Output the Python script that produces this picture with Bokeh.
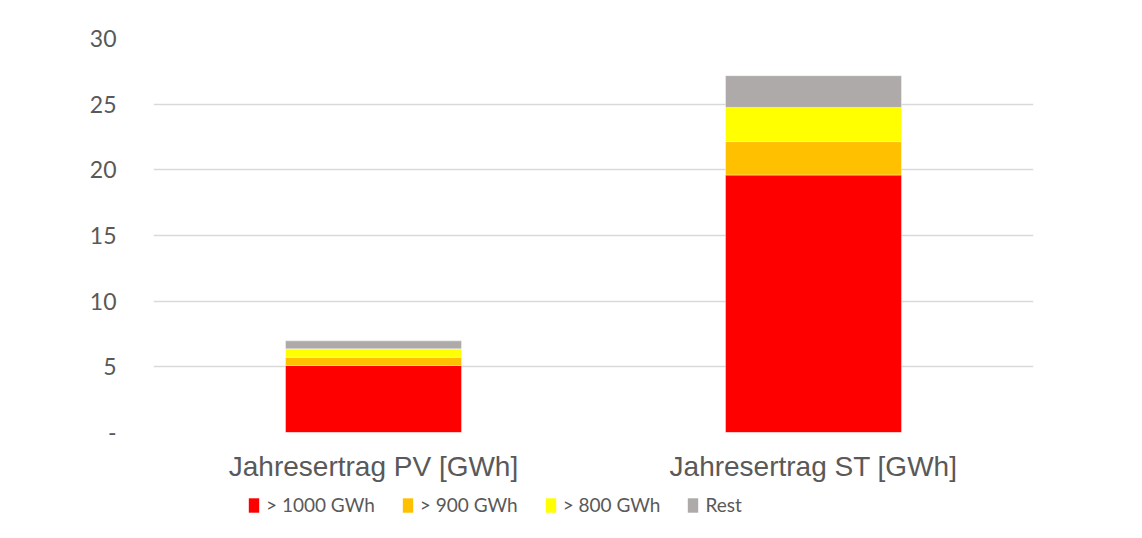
from bokeh.plotting import figure
from bokeh.layouts import column
from bokeh.models import FactorRange, Range1d, FixedTicker, Legend, LegendItem
from bokeh.embed import file_html
from bokeh.resources import INLINE

categories = ["Jahresertrag PV [GWh]", "Jahresertrag ST [GWh]"]
series_names = ["> 1000 GWh", "> 900 GWh", "> 800 GWh", "Rest"]
gt1000 = [5.1, 19.6]
gt900 = [0.63, 2.55]
gt800 = [0.64, 2.6]
rest = [0.61, 2.42]
colors = ["#FF0000", "#FFC000", "#FFFF00", "#AEAAAA"]
y_ticks = [0, 5, 10, 15, 20, 25, 30]

data = {"cat": categories, "s0": gt1000, "s1": gt900, "s2": gt800, "s3": rest}
keys = ["s0", "s1", "s2", "s3"]

W = 1136
p = figure(x_range=FactorRange(*categories, range_padding=0), y_range=Range1d(0, 30),
           width=W, height=494, output_backend="svg", toolbar_location=None,
           min_border_left=153, min_border_right=W - 1033, min_border_top=38, min_border_bottom=62)

p.vbar_stack(keys, x="cat", width=0.4, source=data, color=colors,
             line_color="white", line_alpha=0.4, line_width=1)

p.outline_line_color = None
p.xgrid.grid_line_color = None
p.ygrid.grid_line_color = "#d9d9d9"
p.ygrid.grid_line_width = 1.5

p.yaxis.ticker = FixedTicker(ticks=y_ticks)
p.yaxis.major_label_overrides = {0: "-"}
p.yaxis.axis_line_color = None
p.yaxis.major_tick_line_color = None
p.yaxis.minor_tick_line_color = None
p.yaxis.major_label_standoff = 31
p.yaxis.major_label_text_font = "Lato"
p.yaxis.major_label_text_font_size = "23px"
p.yaxis.major_label_text_color = "#595959"

p.xaxis.axis_line_color = None
p.xaxis.major_tick_line_color = None
p.xaxis.minor_tick_line_color = None
p.xaxis.major_label_standoff = 12
p.xaxis.major_label_text_font = "Liberation Sans"
p.xaxis.major_label_text_font_size = "28px"
p.xaxis.major_label_text_color = "#595959"

# legend strip: same series drawn out of view, only the legend shows
lg = figure(x_range=FactorRange(*categories, range_padding=0), y_range=Range1d(1000, 1001),
            width=W, height=36, output_backend="svg", toolbar_location=None,
            x_axis_location=None, y_axis_location=None,
            min_border_left=0, min_border_right=0, min_border_top=0, min_border_bottom=0)
lg.outline_line_color = None
lg.grid.grid_line_color = None
lrs = lg.vbar_stack(keys, x="cat", width=0.4, source=data, color=colors, line_color=None)

items = [LegendItem(label=n, renderers=[r]) for n, r in zip(series_names, lrs)]
legend = Legend(items=items, orientation="horizontal", location=(94, 14),
                glyph_width=13, glyph_height=18, label_standoff=6, spacing=26,
                padding=0, margin=0, border_line_color=None, background_fill_alpha=0,
                label_text_font="Lato", label_text_font_size="19px",
                label_text_color="#595959")
lg.add_layout(legend, "center")

open("out.html", "w").write(file_html(column(p, lg, spacing=0), INLINE))
